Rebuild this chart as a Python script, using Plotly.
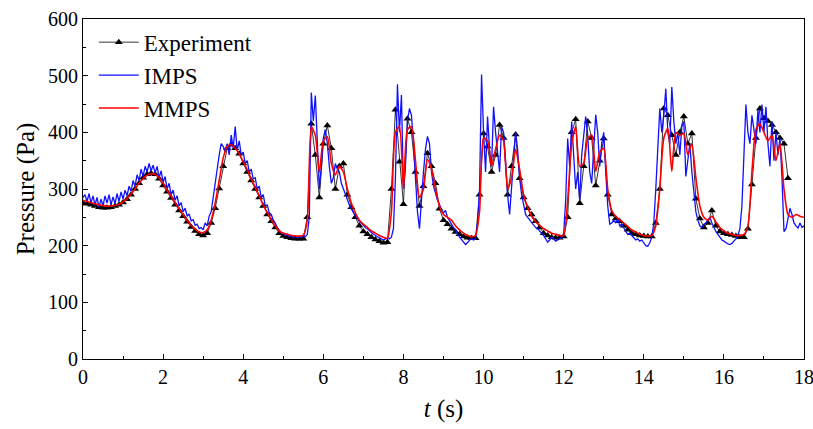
import numpy as np
import plotly.graph_objects as go

# Experiment, sampled every 0.1 s from 0 to 17.5 s
exp_step = 0.1
exp_p = [
    275, 274, 272, 270, 268, 267, 267, 268, 270, 272,
    276, 282, 290, 300, 310, 320, 326, 328, 326, 318,
    306, 295, 284, 272, 262, 252, 242, 233, 226, 220,
    218, 222, 240, 266, 301, 340, 372, 378, 372, 362,
    345, 330, 315, 300, 285, 270, 255, 243, 232, 222,
    217, 215, 213, 212, 212, 212, 250, 415, 360, 285,
    380, 412, 372, 300, 340, 345, 290, 268, 250, 235,
    225, 220, 215, 211, 208, 205, 206, 300, 440, 348,
    273, 424, 400, 330, 270, 305, 363, 340, 310, 265,
    245, 238, 230, 224, 220, 216, 214, 213, 213, 290,
    398, 375, 330, 360, 413, 390, 290, 340, 396, 319,
    285, 266, 255, 243, 232, 222, 218, 215, 214, 214,
    216, 250, 400, 423, 275, 340, 419, 390, 306, 350,
    389, 290, 255, 248, 243, 235, 228, 222, 220, 218,
    217, 216, 216, 240, 300, 442, 430, 395, 360, 400,
    428, 380, 398, 283, 248, 232, 240, 262, 235, 225,
    222, 220, 219, 217, 215, 215, 230, 308, 390, 442,
    425, 420, 413, 400, 390, 380, 319,
]

# IMPS, sampled every 0.05 s from 0 to 18 s
imps_step = 0.05
imps_p = [
    285, 290, 278, 292, 275, 288, 272, 285, 268, 282, 270, 288, 275, 290, 272, 286, 274, 292, 278, 295,
    282, 298, 288, 305, 296, 315, 305, 325, 315, 335, 322, 340, 330, 345, 332, 342, 328, 340, 320, 332,
    312, 322, 300, 310, 290, 298, 280, 288, 270, 276, 260, 266, 252, 256, 244, 246, 236, 238, 230, 232,
    228, 240, 235, 252, 260, 285, 310, 340, 360, 380, 375, 365, 380, 360, 395, 372, 410, 368, 385, 360,
    365, 345, 350, 330, 335, 318, 320, 300, 305, 285, 290, 270, 272, 258, 255, 245, 240, 232, 228, 222,
    222, 218, 220, 216, 218, 215, 217, 214, 216, 215, 218, 216, 220, 250, 470, 420, 465, 380, 300, 340,
    390, 405, 380, 340, 310, 320, 345, 335, 330, 310, 300, 290, 280, 272, 265, 258, 252, 248, 242, 240,
    236, 232, 230, 226, 224, 220, 218, 216, 215, 212, 210, 212, 213, 212, 215, 230, 320, 485, 400, 466,
    300, 340, 420, 442, 430, 380, 320, 260, 230, 290, 330, 370, 393, 380, 330, 305, 290, 280, 273, 262,
    258, 262, 250, 245, 238, 232, 228, 220, 215, 210, 205, 202, 205, 210, 212, 210, 212, 240, 300, 502,
    400, 330, 428, 370, 340, 445, 400, 360, 330, 410, 400, 350, 290, 255, 300, 360, 400, 370, 320, 290,
    270, 255, 250, 245, 240, 235, 232, 230, 225, 222, 218, 212, 206, 210, 215, 212, 208, 210, 212, 215,
    220, 280, 389, 340, 419, 360, 300, 330, 280, 360, 400, 428, 395, 330, 310, 380, 431, 400, 340, 380,
    400, 330, 270, 238, 240, 245, 240, 248, 235, 238, 230, 225, 220, 222, 218, 214, 210, 212, 208, 210,
    204, 200, 199, 205, 215, 240, 300, 380, 442, 400, 430, 477, 400, 380, 480, 420, 380, 400, 360, 410,
    419, 322, 350, 380, 330, 290, 260, 245, 235, 232, 238, 240, 245, 250, 240, 232, 225, 220, 215, 210,
    208, 205, 203, 202, 204, 208, 212, 218, 230, 270, 370, 449, 400, 380, 430, 400, 380, 440, 400, 449,
    400, 445, 380, 340, 420, 350, 400, 360, 390, 320, 225, 230, 250, 266, 255, 240, 235, 231, 240, 232,
    235,
]

# MMPS, sampled every 0.1 s from 0 to 18 s
mmps_step = 0.1
mmps_p = [
    280, 278, 276, 274, 272, 271, 270, 270, 271, 273,
    277, 283, 291, 300, 310, 318, 324, 327, 326, 320,
    310, 298, 287, 276, 265, 255, 245, 236, 229, 224,
    223, 228, 245, 275, 315, 355, 375, 378, 372, 362,
    348, 334, 318, 303, 288, 272, 258, 246, 235, 226,
    222, 220, 218, 217, 217, 218, 245, 410, 395, 330,
    385, 392, 345, 325, 340, 330, 300, 275, 258, 245,
    238, 232, 226, 222, 218, 215, 213, 260, 400, 410,
    300, 405, 410, 350, 285, 300, 352, 335, 300, 270,
    255, 250, 245, 235, 228, 222, 218, 216, 218, 260,
    390, 385, 340, 370, 395, 385, 300, 320, 370, 335,
    290, 268, 252, 242, 236, 230, 226, 222, 220, 218,
    218, 280, 380, 410, 340, 345, 389, 395, 331, 365,
    372, 300, 262, 252, 246, 240, 234, 228, 224, 220,
    218, 217, 218, 235, 300, 390, 407, 331, 400, 395,
    398, 360, 380, 320, 270, 250, 245, 252, 242, 232,
    226, 222, 220, 218, 218, 220, 235, 330, 405, 415,
    400, 385, 395, 350, 380, 300, 255, 250, 255, 252,
    250,
]

exp_t = np.round(np.arange(len(exp_p)) * exp_step, 3)
imps_t = np.round(np.arange(len(imps_p)) * imps_step, 3)
mmps_t = np.round(np.arange(len(mmps_p)) * mmps_step, 3)

FONT = "Liberation Serif"

fig = go.Figure()
fig.add_trace(go.Scatter(
    x=exp_t, y=exp_p, name="Experiment", mode="lines+markers",
    line=dict(color="black", width=0.8),
    marker=dict(symbol="triangle-up", size=7, color="black"),
))
fig.add_trace(go.Scatter(
    x=imps_t, y=imps_p, name="IMPS", mode="lines",
    line=dict(color="#1010ff", width=1.3),
))
fig.add_trace(go.Scatter(
    x=mmps_t, y=mmps_p, name="MMPS", mode="lines",
    line=dict(color="#ff0000", width=1.6, shape="spline", smoothing=0.6),
))

fig.update_layout(
    width=813, height=429,
    margin=dict(l=83, r=8, t=17, b=70),
    paper_bgcolor="white", plot_bgcolor="white",
    font=dict(family=FONT, size=20, color="black"),
    showlegend=True,
    legend=dict(
        x=0.015, y=0.995, xanchor="left", yanchor="top",
        bgcolor="rgba(0,0,0,0)", font=dict(family=FONT, size=23),
        tracegroupgap=0, itemwidth=40,
    ),
    xaxis=dict(
        range=[0, 18], dtick=2, tick0=0, automargin=False,
        showline=True, linecolor="black", linewidth=1.2, mirror=True,
        ticks="inside", ticklen=5, tickwidth=1, tickcolor="black",
        minor=dict(ticks="inside", ticklen=3, dtick=1, tickcolor="black"),
        showgrid=False, zeroline=False, ticklabeloverflow="allow",
        tickfont=dict(family=FONT, size=20),
        title=dict(text="<i>t</i> (s)", font=dict(family=FONT, size=25), standoff=12),
    ),
    yaxis=dict(
        range=[0, 600], dtick=100, tick0=0,
        showline=True, linecolor="black", linewidth=1.2, mirror=True,
        ticks="inside", ticklen=5, tickwidth=1, tickcolor="black",
        minor=dict(ticks="inside", ticklen=3, dtick=50, tickcolor="black"),
        showgrid=False, zeroline=False, ticklabeloverflow="allow",
        tickfont=dict(family=FONT, size=20),
        title=dict(text="Pressure (Pa)", font=dict(family=FONT, size=25), standoff=6),
    ),
)

fig.write_html("out.html")
